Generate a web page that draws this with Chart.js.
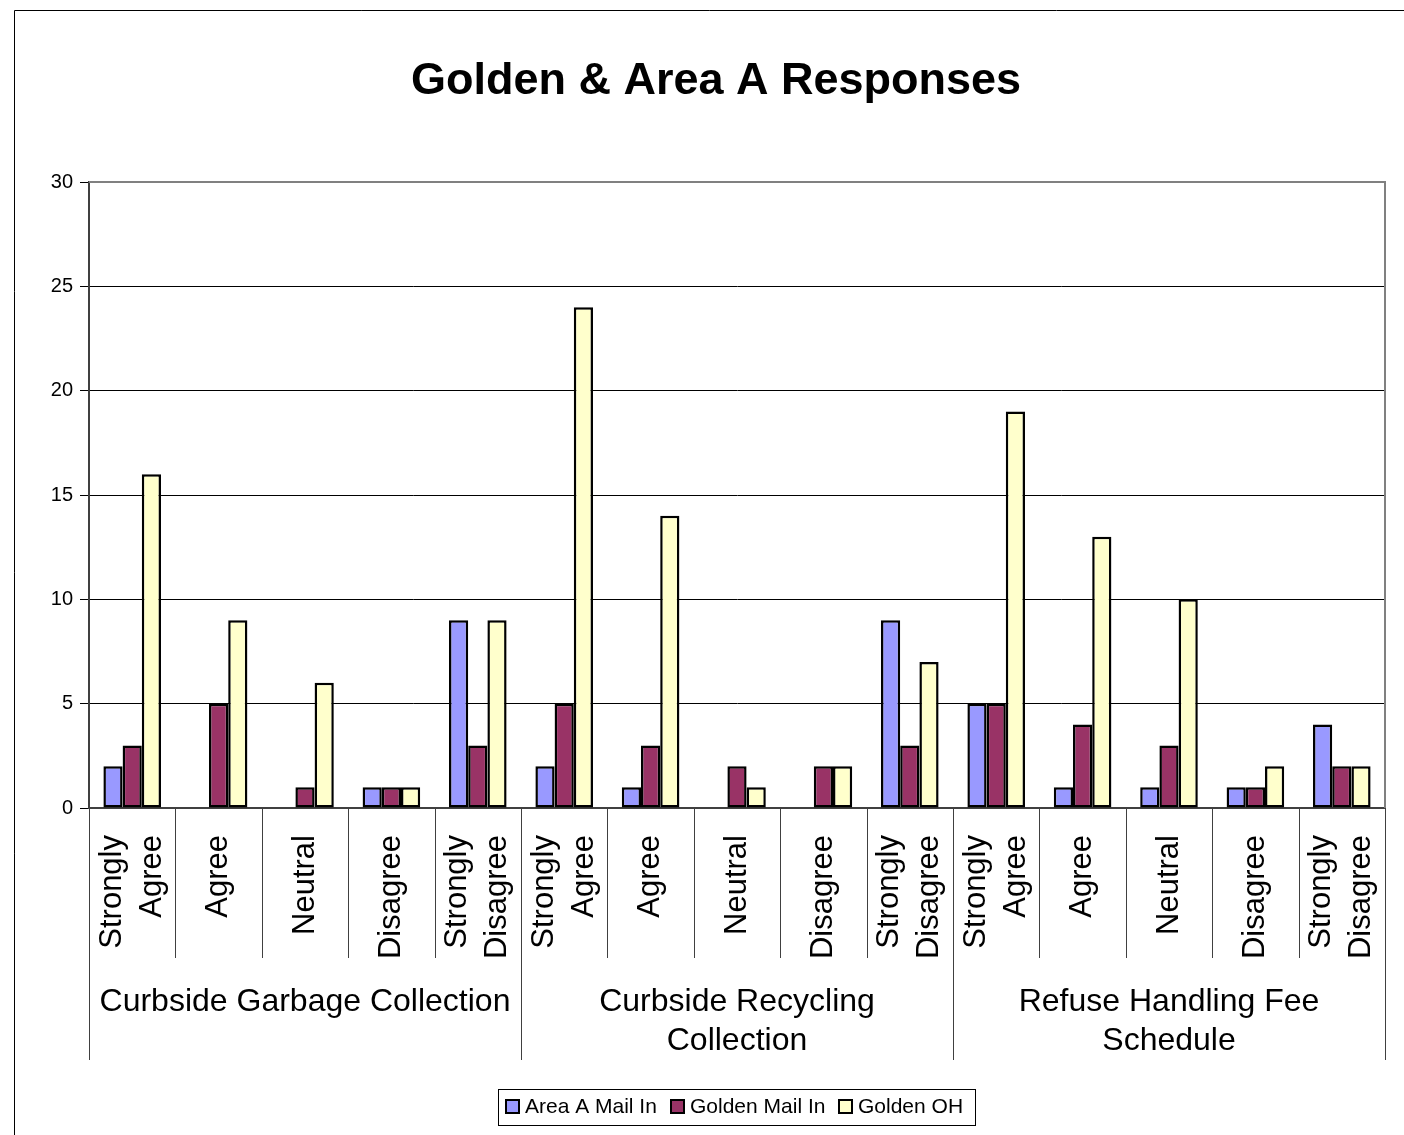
<!DOCTYPE html>
<html>
<head>
<meta charset="utf-8">
<script src="https://cdn.jsdelivr.net/npm/chart.js@4.4.0/dist/chart.umd.min.js"></script>
<style>
  html, body { margin: 0; padding: 0; background: #fff; }
  #wrap { width: 1404px; height: 1135px; position: relative; }
</style>
</head>
<body>
<div id="wrap"><canvas id="responsesChart"></canvas></div>
<script>
const groups = [["Curbside Garbage Collection"], ["Curbside Recycling", "Collection"], ["Refuse Handling Fee", "Schedule"]];
const responses = [["Strongly", "Agree"], ["Agree"], ["Neutral"], ["Disagree"], ["Strongly", "Disagree"]];
const seriesNames = ["Area A Mail In", "Golden Mail In", "Golden OH"];
const areaAMailIn = [2, 0, 0, 1, 9, 2, 1, 0, 0, 9, 5, 1, 1, 1, 4];
const goldenMailIn = [3, 5, 1, 1, 3, 5, 3, 2, 2, 3, 5, 4, 3, 1, 2];
const goldenOH = [16, 9, 6, 1, 9, 24, 14, 1, 2, 7, 19, 13, 10, 2, 2];
const yTicks = [0, 5, 10, 15, 20, 25, 30];

const colors = ["#9999ff", "#993366", "#ffffcc"];
const FONT = "'Liberation Sans', Arial, sans-serif";

const labels = [];
groups.forEach(() => responses.forEach(r => labels.push(r)));

// title, multi-level category axis, plot border, legend box, outer frame
const excelLook = {
    id: "excelLook",
    afterDraw(chart) {
        const c = chart.ctx;
        const xs = chart.scales.x;
        const area = chart.chartArea;
        const step = xs.getPixelForValue(1) - xs.getPixelForValue(0);
        c.save();

        // outer frame
        c.strokeStyle = "#000";
        c.lineWidth = 1;
        c.beginPath();
        c.moveTo(14.5, 1135);
        c.lineTo(14.5, 10.5);
        c.lineTo(1404, 10.5);
        c.stroke();

        // title
        c.fillStyle = "#000";
        c.font = "bold 45px " + FONT;
        c.textAlign = "center";
        c.textBaseline = "middle";
        c.fillText("Golden & Area A Responses", 716, 82);

        // plot area border (top, right)
        c.strokeStyle = "#808080";
        c.lineWidth = 2;
        c.beginPath();
        c.moveTo(area.left, area.top);
        c.lineTo(area.right, area.top);
        c.lineTo(area.right, area.bottom);
        c.stroke();

        // category separators
        c.strokeStyle = "#404040";
        c.lineWidth = 1;
        for (let i = 0; i <= labels.length; i++) {
            const x = Math.round(xs.getPixelForValue(0) - step / 2 + i * step) + 0.5;
            const isGroup = i % responses.length === 0;
            c.beginPath();
            c.moveTo(x, area.bottom);
            c.lineTo(x, isGroup ? 1060 : 958);
            c.stroke();
        }

        // response labels, rotated
        c.fillStyle = "#000";
        c.font = "31px " + FONT;
        c.textAlign = "right";
        c.textBaseline = "middle";
        labels.forEach((lines, i) => {
            const cx = xs.getPixelForValue(i);
            c.save();
            c.translate(cx, 835);
            c.rotate(-Math.PI / 2);
            lines.forEach((t, j) => {
                const off = (j - (lines.length - 1) / 2) * 40;
                c.fillText(t, 0, off);
            });
            c.restore();
        });

        // group labels
        c.font = "32px " + FONT;
        c.textAlign = "center";
        groups.forEach((lines, g) => {
            const first = xs.getPixelForValue(g * responses.length);
            const last = xs.getPixelForValue((g + 1) * responses.length - 1);
            const cx = (first + last) / 2;
            lines.forEach((t, j) => c.fillText(t, cx, 1002 + j * 39));
        });

        // legend
        c.strokeStyle = "#000";
        c.lineWidth = 1;
        c.strokeRect(498.5, 1089.5, 477, 36);
        c.font = "21px " + FONT;
        c.textAlign = "left";
        const itemX = [506, 671, 839];
        seriesNames.forEach((name, k) => {
            c.fillStyle = colors[k];
            c.fillRect(itemX[k], 1100, 13, 13);
            c.lineWidth = 2;
            c.strokeRect(itemX[k], 1100, 13, 13);
            c.fillStyle = "#000";
            c.fillText(name, itemX[k] + 19, 1107);
        });
        c.restore();
    }
};

const ctx = document.getElementById("responsesChart").getContext("2d");

const makeSet = (label, data, color) => ({
    label: label,
    data: data,
    backgroundColor: color,
    borderColor: "#000",
    borderWidth: (c) => (c.raw === 0 ? 0 : 2.5),
    borderSkipped: false,
    categoryPercentage: 3 / 4.5,
    barPercentage: 1
});

new Chart(ctx, {
    type: "bar",
    data: {
        labels: labels.map(l => l.join(" ")),
        datasets: [
            makeSet(seriesNames[0], areaAMailIn, colors[0]),
            makeSet(seriesNames[1], goldenMailIn, colors[1]),
            makeSet(seriesNames[2], goldenOH, colors[2])
        ]
    },
    options: {
        responsive: true,
        maintainAspectRatio: false,
        animation: false,
        layout: { padding: { top: 182, right: 19, left: 0, bottom: 0 } },
        plugins: {
            legend: { display: false },
            title: { display: false },
            tooltip: { enabled: false }
        },
        scales: {
            x: {
                grid: { display: false },
                border: { color: "#404040", width: 2 },
                ticks: { display: false },
                afterFit: (s) => { s.height = 327; }
            },
            y: {
                min: 0,
                max: 30,
                afterFit: (s) => { s.width = 89; },
                afterBuildTicks: (s) => { s.ticks = yTicks.map(v => ({ value: v })); },
                grid: { color: "#000", lineWidth: 1, tickLength: 9, tickColor: "#000" },
                border: { color: "#404040", width: 2 },
                ticks: {
                    color: "#000",
                    padding: 7,
                    font: { family: FONT, size: 20 }
                }
            }
        }
    },
    plugins: [excelLook]
});
</script>
</body>
</html>
